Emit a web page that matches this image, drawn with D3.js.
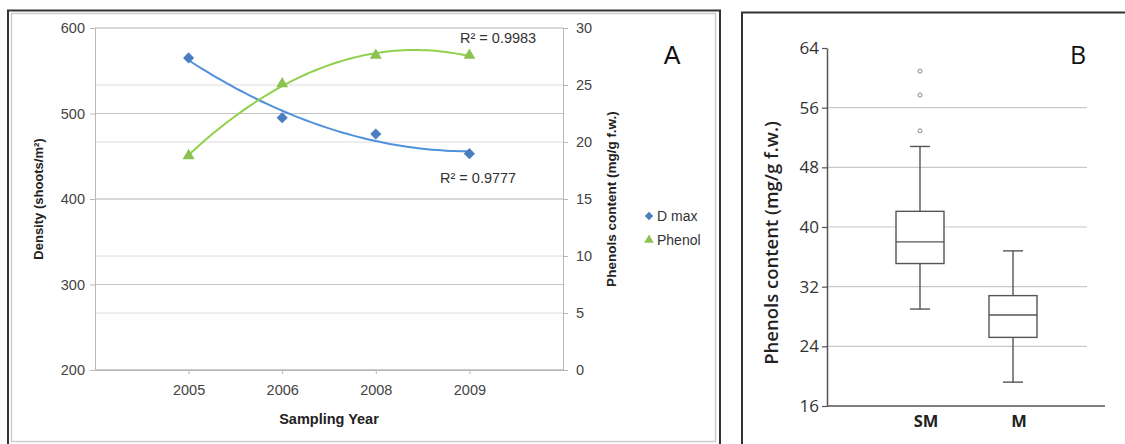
<!DOCTYPE html>
<html>
<head>
<meta charset="utf-8">
<script src="https://cdn.jsdelivr.net/npm/d3@7"></script>
<style>
  html, body { margin: 0; padding: 0; background: #fff; }
  svg { display: block; }
</style>
</head>
<body>
<div id="chart"></div>
<script>
// panel A data
const years      = ['2005', '2006', '2008', '2009'];
const dMax       = [565, 495, 476, 453];
const phenol     = [18.8, 25.1, 27.6, 27.6];
const densTicks  = [200, 300, 400, 500, 600];
const phenTicks  = [0, 5, 10, 15, 20, 25, 30];
const r2Labels   = ['R\u00b2 = 0.9983', 'R\u00b2 = 0.9777'];

// panel B data
const groups     = ['SM', 'M'];
const whiskLo    = [29.0, 19.2];
const q1         = [35.1, 25.2];
const median     = [38.0, 28.2];
const q3         = [42.1, 30.8];
const whiskHi    = [50.8, 36.8];
const outliers   = [[52.9, 57.7, 60.9], []];
const boxTicks   = [16, 24, 32, 40, 48, 56, 64];

const W = 1125, H = 444;
const svg = d3.select('#chart').append('svg').attr('width', W).attr('height', H);
svg.append('rect').attr('width', W).attr('height', H).attr('fill', '#fff');

const fA = 'Liberation Sans, Arial, sans-serif';
const fB = 'Open Sans, sans-serif';

// ---------- panel A ----------
svg.append('rect').attr('x', 8).attr('y', 10.5).attr('width', 712).attr('height', 440)
  .attr('fill', 'none').attr('stroke', '#333').attr('stroke-width', 2);
svg.append('rect').attr('x', 11.5).attr('y', 13.5).attr('width', 704).attr('height', 428)
  .attr('fill', 'none').attr('stroke', '#ccc').attr('stroke-width', 1.5);

const A = { l: 95, r: 563, t: 28, b: 370 };
const x  = d3.scalePoint().domain(years).range([A.l, A.r]).padding(1);
const yL = d3.scaleLinear().domain([200, 600]).range([A.b, A.t]);
const yR = d3.scaleLinear().domain([0, 30]).range([A.b, A.t]);

const gA = svg.append('g');
// secondary gridlines first (lighter), then primary
phenTicks.forEach(t => {
  gA.append('line').attr('x1', A.l).attr('x2', A.r).attr('y1', yR(t)).attr('y2', yR(t))
    .attr('stroke', '#dcdcdc').attr('stroke-width', 1);
});
densTicks.forEach(t => {
  gA.append('line').attr('x1', A.l).attr('x2', A.r).attr('y1', yL(t)).attr('y2', yL(t))
    .attr('stroke', '#c4c4c4').attr('stroke-width', 1);
});

const axL = gA.append('g').attr('transform', `translate(${A.l},0)`)
  .call(d3.axisLeft(yL).tickValues(densTicks).tickSize(5).tickPadding(5));
const axR = gA.append('g').attr('transform', `translate(${A.r},0)`)
  .call(d3.axisRight(yR).tickValues(phenTicks).tickSize(5).tickPadding(8));
const axX = gA.append('g').attr('transform', `translate(0,${A.b})`)
  .call(d3.axisBottom(x).tickSize(4).tickPadding(11).tickSizeOuter(0));
gA.append('line').attr('x1', A.l).attr('x2', A.r).attr('y1', A.b).attr('y2', A.b).attr('stroke', '#b8b8b8');
[axL, axR, axX].forEach(a => {
  a.attr('font-size', null);
  a.select('.domain').attr('stroke', '#b8b8b8');
  a.selectAll('.tick line').attr('stroke', '#b8b8b8');
  a.selectAll('text').attr('fill', '#444').style('font-family', fA).style('font-size', '14.5px');
});

// quadratic trendlines (least squares, like Excel's order-2 polynomial)
function quadFit(vals) {
  const xs = vals.map((_, i) => i + 1);
  const s = [0, 0, 0, 0, 0], sy = [0, 0, 0];
  xs.forEach((xv, i) => {
    for (let k = 0; k <= 4; k++) s[k] += Math.pow(xv, k);
    for (let k = 0; k <= 2; k++) sy[k] += Math.pow(xv, k) * vals[i];
  });
  const M = [[s[0], s[1], s[2], sy[0]], [s[1], s[2], s[3], sy[1]], [s[2], s[3], s[4], sy[2]]];
  for (let i = 0; i < 3; i++) {
    for (let j = i + 1; j < 3; j++) {
      const f = M[j][i] / M[i][i];
      for (let k = i; k < 4; k++) M[j][k] -= f * M[i][k];
    }
  }
  const c = [0, 0, 0];
  for (let i = 2; i >= 0; i--) {
    let v = M[i][3];
    for (let k = i + 1; k < 3; k++) v -= M[i][k] * c[k];
    c[i] = v / M[i][i];
  }
  return t => c[0] + c[1] * t + c[2] * t * t;
}
const step = x.step();
const xi = t => x(years[0]) + (t - 1) * step;

function trend(vals, yS, color) {
  const f = quadFit(vals);
  const pts = d3.range(1, 4.001, 0.05).map(t => [xi(t), yS(f(t))]);
  gA.append('path').attr('d', d3.line()(pts)).attr('fill', 'none')
    .attr('stroke', color).attr('stroke-width', 2);
}
trend(dMax, yL, '#5091dc');
trend(phenol, yR, '#8fd04c');

const diamond = d3.symbol().type(d3.symbolSquare).size(62);
const tri = d3.symbol().type(d3.symbolTriangle).size(62);
years.forEach((yr, i) => {
  gA.append('path').attr('d', diamond).attr('transform', `translate(${x(yr)},${yL(dMax[i])}) rotate(45)`)
    .attr('fill', '#4a7ebf');
  gA.append('path').attr('d', tri).attr('transform', `translate(${x(yr)},${yR(phenol[i])})`)
    .attr('fill', '#8dc152');
});

gA.append('text').attr('x', 460).attr('y', 42.5).attr('fill', '#333')
  .style('font-family', fA).style('font-size', '14.5px').text(r2Labels[0]);
gA.append('text').attr('x', 440).attr('y', 183).attr('fill', '#333')
  .style('font-family', fA).style('font-size', '14.5px').text(r2Labels[1]);

gA.append('text').attr('x', 672).attr('y', 64).attr('text-anchor', 'middle')
  .attr('fill', '#111').style('font-family', fA).style('font-size', '25px').text('A');

gA.append('text').attr('transform', `translate(43,${(A.t + A.b) / 2}) rotate(-90)`)
  .attr('text-anchor', 'middle').attr('fill', '#222')
  .style('font-family', fA).style('font-size', '13px').style('font-weight', 'bold')
  .text('Density (shoots/m\u00b2)');
gA.append('text').attr('transform', `translate(616,${(A.t + A.b) / 2}) rotate(-90)`)
  .attr('text-anchor', 'middle').attr('fill', '#222')
  .style('font-family', fA).style('font-size', '13.5px').style('font-weight', 'bold')
  .text('Phenols content (mg/g f.w.)');
gA.append('text').attr('x', (A.l + A.r) / 2).attr('y', 424).attr('text-anchor', 'middle').attr('fill', '#222')
  .style('font-family', fA).style('font-size', '14.5px').style('font-weight', 'bold')
  .text('Sampling Year');

// legend
[['D max', diamond, '#4a7ebf', 216, 'rotate(45) scale(0.75)'], ['Phenol', tri, '#8dc152', 240, 'scale(0.8)']]
  .forEach(([lab, sym, col, ly, tr]) => {
    gA.append('path').attr('d', sym).attr('fill', col)
      .attr('transform', `translate(649,${ly}) ${tr}`);
    gA.append('text').attr('x', 657).attr('y', ly + 5).attr('fill', '#333')
      .style('font-family', fA).style('font-size', '14px').text(lab);
  });

// ---------- panel B ----------
svg.append('path').attr('d', `M742,${H + 5}V12.5H${W + 5}`)
  .attr('fill', 'none').attr('stroke', '#333').attr('stroke-width', 2);

const B = { l: 827, r: 1105, t: 48, b: 406, gr: 1087 };
const xb = d3.scalePoint().domain(groups).range([920, 1013]);
const yb = d3.scaleLinear().domain([16, 64]).range([B.b, B.t]);
const gB = svg.append('g');

boxTicks.filter(t => t > 16 && t < 64).forEach(t => {
  gB.append('line').attr('x1', B.l).attr('x2', B.gr).attr('y1', yb(t)).attr('y2', yb(t))
    .attr('stroke', '#c8c8c8').attr('stroke-width', 1.2);
});
const axB = gB.append('g').attr('transform', `translate(${B.l},0)`)
  .call(d3.axisLeft(yb).tickValues(boxTicks).tickSize(5).tickSizeOuter(0).tickPadding(3));
axB.attr('font-size', null);
axB.select('.domain').attr('stroke', '#555').attr('stroke-width', 1.5);
axB.selectAll('.tick line').attr('stroke', '#555').attr('stroke-width', 1.2);
axB.selectAll('text').attr('fill', '#333').style('font-family', fB).style('font-size', '17px');
gB.append('line').attr('x1', B.l).attr('x2', B.r).attr('y1', B.b).attr('y2', B.b)
  .attr('stroke', '#555').attr('stroke-width', 1.5);

const bw = 48, cw = 10;
groups.forEach((gname, i) => {
  const cx = xb(gname);
  const g = gB.append('g').attr('stroke', '#555').attr('stroke-width', 1.4).attr('fill', 'none');
  g.append('line').attr('x1', cx).attr('x2', cx).attr('y1', yb(whiskHi[i])).attr('y2', yb(q3[i]));
  g.append('line').attr('x1', cx).attr('x2', cx).attr('y1', yb(q1[i])).attr('y2', yb(whiskLo[i]));
  g.append('line').attr('x1', cx - cw).attr('x2', cx + cw).attr('y1', yb(whiskHi[i])).attr('y2', yb(whiskHi[i]));
  g.append('line').attr('x1', cx - cw).attr('x2', cx + cw).attr('y1', yb(whiskLo[i])).attr('y2', yb(whiskLo[i]));
  g.append('rect').attr('x', cx - bw / 2).attr('width', bw)
    .attr('y', yb(q3[i])).attr('height', yb(q1[i]) - yb(q3[i])).attr('fill', '#fff');
  g.append('line').attr('x1', cx - bw / 2).attr('x2', cx + bw / 2).attr('y1', yb(median[i])).attr('y2', yb(median[i]));
  outliers[i].forEach(o => {
    g.append('circle').attr('cx', cx).attr('cy', yb(o)).attr('r', 2)
      .attr('stroke', '#888').attr('stroke-width', 1);
  });
  gB.append('text').attr('x', cx + 6).attr('y', 427).attr('text-anchor', 'middle').attr('fill', '#222')
    .style('font-family', fB).style('font-size', '16.5px').style('font-weight', 'bold').text(gname);
});

gB.append('text').attr('transform', `translate(778,243) rotate(-90)`)
  .attr('text-anchor', 'middle').attr('fill', '#222')
  .style('font-family', fB).style('font-size', '18.5px').style('font-weight', '600')
  .text('Phenols content (mg/g f.w.)');
gB.append('text').attr('x', 1078).attr('y', 64).attr('text-anchor', 'middle')
  .attr('fill', '#111').style('font-family', fB).style('font-size', '25px').text('B');
</script>
</body>
</html>
